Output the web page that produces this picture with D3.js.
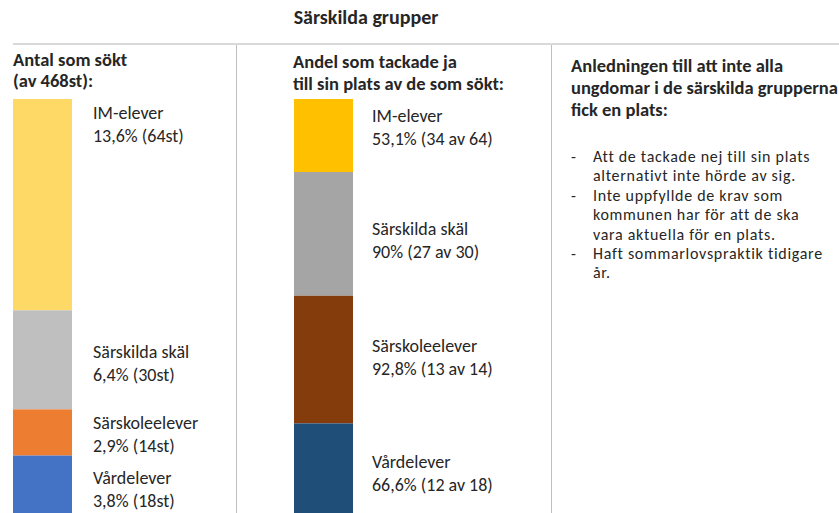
<!DOCTYPE html>
<html>
<head>
<meta charset="utf-8">
<script src="https://cdn.jsdelivr.net/npm/d3@7"></script>
<style>
  body { margin: 0; background: #fff; }
  svg { display: block; font-family: Carlito, Lato, "Noto Sans", sans-serif; }
</style>
</head>
<body>
<div id="chart"></div>
<script>
"use strict";

// data
var groups = ["IM-elever", "Särskilda skäl", "Särskoleelever", "Vårdelever"];
var applied = [64, 30, 14, 18];                       // st som sökt (av 468)
var appliedShare = ["13,6%", "6,4%", "2,9%", "3,8%"];
var accepted = [34, 27, 13, 12];                      // tackade ja
var acceptedShare = [53.1, 90, 92.8, 66.6];           // % av de som sökt
var acceptedShareText = ["53,1%", "90%", "92,8%", "66,6%"];

var reasons = [
  ["Att de tackade nej till sin plats", "alternativt inte hörde av sig."],
  ["Inte uppfyllde de krav som", "kommunen har för att de ska", "vara aktuella för en plats."],
  ["Haft sommarlovspraktik tidigare", "år."]
];

var leftColors = ["#FFD966", "#BFBFBF", "#ED7D31", "#4472C4"];
var midColors = ["#FFC000", "#A5A5A5", "#843C0C", "#1F4E79"];

// where the label sits under the top of its own segment (hand placed in the original)
var leftLabelDy = [20, 48, 20, 28];
var midLabelDy = [23, 63, 56, 45];

var W = 839, H = 513;
var barTop = 99, barBottom = 515;
var textCol = "#262626";

var svg = d3.select("#chart").append("svg")
  .attr("width", W).attr("height", H);

// title
svg.append("text")
  .attr("x", 366).attr("y", 24)
  .attr("text-anchor", "middle")
  .attr("font-weight", "bold")
  .attr("font-size", 20)
  .attr("fill", textCol)
  .text("Särskilda grupper");

// table lines
svg.append("line")
  .attr("x1", 13).attr("x2", W).attr("y1", 44).attr("y2", 44)
  .attr("stroke", "#d9d9d9").attr("stroke-width", 2);
[236, 551].forEach(function (x) {
  svg.append("line")
    .attr("x1", x + 0.5).attr("x2", x + 0.5).attr("y1", 45).attr("y2", H)
    .attr("stroke", "#bfbfbf").attr("stroke-width", 1);
});

function header(x, y, lines, dy) {
  var t = svg.append("text")
    .attr("font-weight", "bold").attr("font-size", 18.5).attr("fill", textCol);
  lines.forEach(function (l, i) {
    t.append("tspan").attr("x", x).attr("y", y + i * dy).text(l);
  });
}

function stacked(values, colors, x0, x1) {
  var total = d3.sum(values);
  var y = d3.scaleLinear().domain([0, total]).range([barTop, barBottom]);
  var cum = d3.cumsum(values);
  var segs = values.map(function (v, i) {
    return { v: v, start: cum[i] - v, end: cum[i], i: i };
  });
  var g = svg.append("g");
  g.selectAll("rect").data(segs).enter().append("rect")
    .attr("x", x0)
    .attr("width", x1 - x0)
    .attr("y", function (d) { return y(d.start); })
    .attr("height", function (d) { return y(d.end) - y(d.start); })
    .attr("fill", function (d) { return colors[d.i]; });
  return segs.map(function (d) { return y(d.start); });
}

function labels(tops, x, dy, line2) {
  var t = svg.append("g").selectAll("text").data(groups).enter().append("text")
    .attr("font-size", 18).attr("fill", textCol);
  t.append("tspan").attr("x", x)
    .attr("y", function (d, i) { return tops[i] + dy[i]; })
    .text(function (d) { return d; });
  t.append("tspan").attr("x", x)
    .attr("y", function (d, i) { return tops[i] + dy[i] + 23; })
    .text(function (d, i) { return line2(i); });
}

// left: antal som sökt
header(13, 66, ["Antal som sökt", "(av 468st):"], 21);
var lTops = stacked(applied, leftColors, 13, 72);
labels(lTops, 93, leftLabelDy, function (i) {
  return appliedShare[i] + " (" + applied[i] + "st)";
});

// middle: andel som tackade ja
header(293, 68, ["Andel som tackade ja", "till sin plats av de som sökt:"], 21.5);
var mTops = stacked(acceptedShare, midColors, 294, 353);
labels(mTops, 372, midLabelDy, function (i) {
  return acceptedShareText[i] + " (" + accepted[i] + " av " + applied[i] + ")";
});

// right: reasons (one text per bullet so the lines don't collide)
header(571, 72, ["Anledningen till att inte alla", "ungdomar i de särskilda grupperna", "fick en plats:"], 22);
var row = 0;
reasons.forEach(function (lines) {
  var t = svg.append("text")
    .attr("font-size", 16).attr("letter-spacing", 0.7).attr("fill", textCol);
  t.append("tspan").attr("x", 571).attr("y", 162 + row * 19.4).text("-");
  lines.forEach(function (l) {
    t.append("tspan").attr("x", 593).attr("y", 162 + row * 19.4).text(l);
    row++;
  });
});
</script>
</body>
</html>
